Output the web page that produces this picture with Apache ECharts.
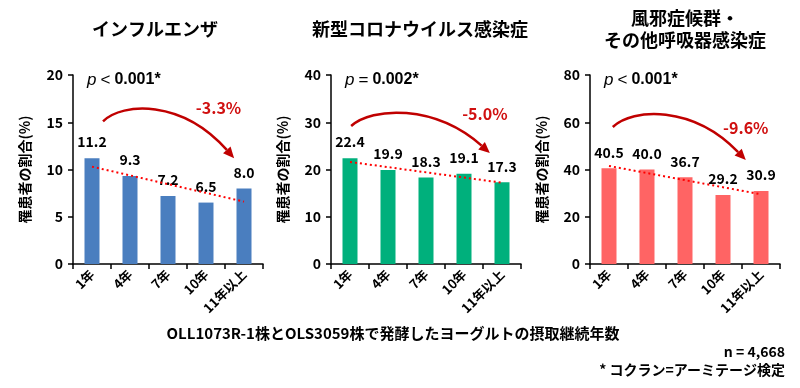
<!DOCTYPE html>
<html><head><meta charset="utf-8">
<script src="https://cdn.jsdelivr.net/npm/echarts@6/dist/echarts.min.js"></script>
<style>html,body{margin:0;padding:0;background:#fff}#c{width:800px;height:388px}</style>
</head><body><div id="c"></div>
<script>
// ---- data ----
var categories = ['1年', '4年', '7年', '10年', '11年以上'];
var titles = ['インフルエンザ', '新型コロナウイルス感染症', '風邪症候群・\nその他呼吸器感染症'];
var influenza = [11.2, 9.3, 7.2, 6.5, 8.0];
var covid = [22.4, 19.9, 18.3, 19.1, 17.3];
var coldOther = [40.5, 40.0, 36.7, 29.2, 30.9];
var yMax = [20, 40, 80];
var yInterval = [5, 10, 20];
var pOperators = ['<', '=', '<'];
var pValues = ['0.001*', '0.002*', '0.001*'];
var changeLabels = ['-3.3%', '-5.0%', '-9.6%'];
// trend line end points (value at first and last category)
var trendInfluenza = [10.3, 6.6];
var trendCovid = [21.6, 17.2];
var trendCold = [41.5, 29.5];
// arrow anchors: [category position, value] start and tip
var arrowInfluenza = [[0.29, 15.1], [3.74, 11.2]];
var arrowCovid = [[0.03, 29.2], [3.68, 23.5]];
var arrowCold = [[0.10, 58.0], [3.60, 44.0]];
// change label anchors: [category position, value]
var changeLabelPos = [[3.33, 16.5], [3.55, 31.8], [3.6, 57.5]];
var yAxisName = '罹患者の割合(%)';
var xAxisTitle = 'OLL1073R-1株とOLS3059株で発酵したヨーグルトの摂取継続年数';
var noteN = 'n = 4,668';
var noteTest = '* コクラン=アーミテージ検定';

var seriesData = [influenza, covid, coldOther];
var trends = [trendInfluenza, trendCovid, trendCold];
var arrows = [arrowInfluenza, arrowCovid, arrowCold];
var barColors = ['#4A7EBF', '#00B07C', '#FF6464'];
var gridLefts = [73, 331, 590];
var titleCenters = [150, 415, 680];
var FONT = '"Noto Sans CJK JP", "Noto Sans", sans-serif';

var chart = echarts.init(document.getElementById('c'), null, {renderer: 'canvas'});
var grids = [], xAxes = [], yAxes = [], series = [], titleArr = [];
for (var i = 0; i < 3; i++) {
  grids.push({left: gridLefts[i], top: 75, width: 190, height: 189});
  xAxes.push({
    type: 'category', gridIndex: i, data: categories, boundaryGap: true,
    axisLine: {lineStyle: {color: '#000', width: 1.5}},
    axisTick: {show: true, inside: false, length: 5, lineStyle: {color: '#000', width: 1.5}},
    axisLabel: {rotate: 45, interval: 0, margin: 8, color: '#000', fontSize: 13, fontWeight: 'bold', fontFamily: FONT}
  });
  yAxes.push({
    type: 'value', gridIndex: i, min: 0, max: yMax[i], interval: yInterval[i],
    name: yAxisName, nameLocation: 'middle', nameRotate: 90, nameGap: 41,
    nameTextStyle: {color: '#000', fontSize: 14, fontWeight: 'bold', fontFamily: FONT},
    axisLine: {show: true, lineStyle: {color: '#000', width: 1.5}},
    axisTick: {show: true, inside: false, length: 5, lineStyle: {color: '#000', width: 1.5}},
    splitLine: {show: false},
    axisLabel: {margin: 10, color: '#000', fontSize: 14, fontWeight: 'bold', fontFamily: FONT}
  });
  series.push({
    type: 'bar', xAxisIndex: i, yAxisIndex: i, data: seriesData[i], barWidth: 15,
    itemStyle: {color: barColors[i]},
    label: {show: true, position: 'top', distance: 9, color: '#000', fontSize: 14, fontWeight: 'bold', fontFamily: FONT,
      formatter: function (p) { return p.value.toFixed(1); }}
  });
  series.push({
    type: 'line', xAxisIndex: i, yAxisIndex: i, z: 5,
    data: [[0, trends[i][0]], [4, trends[i][1]]],
    symbol: 'none', silent: true,
    lineStyle: {color: '#FF0000', width: 2, type: [2, 3]}
  });
  titleArr.push({
    text: titles[i], left: titleCenters[i], top: i === 2 ? 2 : 13, textAlign: 'center',
    textStyle: {color: '#000', fontSize: 18, fontWeight: 'bold', fontFamily: FONT, lineHeight: 22}
  });
}

chart.setOption({
  animation: false,
  title: titleArr,
  grid: grids, xAxis: xAxes, yAxis: yAxes, series: series
});

// ---- annotations positioned via the chart's own scales ----
function toPx(g, cat, val) {
  var a = chart.convertToPixel({gridIndex: g}, [0, val]);
  var b = chart.convertToPixel({gridIndex: g}, [1, val]);
  return [a[0] + cat * (b[0] - a[0]), a[1]];
}
var graphics = [];
for (var g = 0; g < 3; g++) {
  var s = toPx(g, arrows[g][0][0], arrows[g][0][1]);
  var e = toPx(g, arrows[g][1][0], arrows[g][1][1]);
  var dx = e[0] - s[0];
  var c1 = [s[0] + 0.15 * dx, s[1] - 19];
  var c2 = [s[0] + 0.6 * dx, s[1] - 22];
  var ang = Math.atan2(e[1] - c2[1], e[0] - c2[0]);
  var hl = 11, hw = 5;
  var base = [e[0] - hl * Math.cos(ang), e[1] - hl * Math.sin(ang)];
  graphics.push({
    type: 'bezierCurve', silent: true,
    shape: {x1: s[0], y1: s[1], cpx1: c1[0], cpy1: c1[1], cpx2: c2[0], cpy2: c2[1], x2: base[0], y2: base[1]},
    style: {stroke: '#C00000', lineWidth: 2.5, fill: null}
  });
  graphics.push({
    type: 'polygon', silent: true,
    shape: {points: [e,
      [base[0] + hw * Math.sin(ang), base[1] - hw * Math.cos(ang)],
      [base[0] - hw * Math.sin(ang), base[1] + hw * Math.cos(ang)]]},
    style: {fill: '#C00000'}
  });
  // change label
  var lp = toPx(g, changeLabelPos[g][0], changeLabelPos[g][1]);
  graphics.push({
    type: 'text', silent: true, x: lp[0], y: lp[1],
    style: {text: changeLabels[g], fill: '#D01010', fontSize: 16, fontWeight: 'bold', fontFamily: FONT, align: 'center', verticalAlign: 'middle'}
  });
  // p value
  graphics.push({
    type: 'text', silent: true, x: gridLefts[g] + 14, y: 80,
    style: {
      text: '{p|p}{o|' + pOperators[g] + '}{v|' + pValues[g] + '}',
      verticalAlign: 'middle', align: 'left',
      rich: {
        p: {fontSize: 17, fontStyle: 'italic', fill: '#000', fontFamily: '"Liberation Sans", sans-serif', padding: [0, 4, 0, 0], lineHeight: 22, verticalAlign: 'middle'},
        o: {fontSize: 17, fill: '#000', fontFamily: '"Liberation Sans", sans-serif', padding: [0, 4, 0, 0], lineHeight: 22, verticalAlign: 'middle'},
        v: {fontSize: 16, fontWeight: 'bold', fill: '#000', fontFamily: '"Liberation Sans", sans-serif', lineHeight: 22, verticalAlign: 'middle'}
      }
    }
  });
}
graphics.push({type: 'text', silent: true, x: 393, y: 333,
  style: {text: xAxisTitle, fill: '#000', fontSize: 15, fontWeight: 'bold', fontFamily: FONT, align: 'center', verticalAlign: 'middle'}});
graphics.push({type: 'text', silent: true, x: 785, y: 352,
  style: {text: noteN, fill: '#000', fontSize: 14, fontWeight: 'bold', fontFamily: FONT, align: 'right', verticalAlign: 'middle'}});
graphics.push({type: 'text', silent: true, x: 785, y: 370,
  style: {text: noteTest, fill: '#000', fontSize: 14, fontWeight: 'bold', fontFamily: FONT, align: 'right', verticalAlign: 'middle'}});
chart.setOption({graphic: graphics});
</script></body></html>
